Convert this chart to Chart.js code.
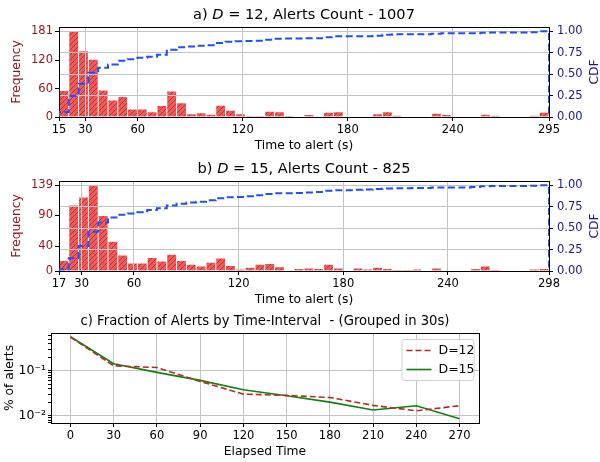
<!doctype html>
<html lang="en">
<head>
<meta charset="utf-8">
<title>Time to alert</title>
<style>
  body { margin: 0; background: #fff; }
  #wrap { position: relative; width: 600px; height: 462px; }
  canvas { position: absolute; left: 0; }
</style>
</head>
<body>
<div id="wrap">
  <canvas id="chartA" width="600" height="160" style="top:0"></canvas>
  <canvas id="chartB" width="600" height="160" style="top:150px"></canvas>
  <canvas id="chartC" width="600" height="157" style="top:305px"></canvas>
</div>
<script src="https://cdn.jsdelivr.net/npm/chart.js"></script>
<script>
// a) D=12 : 50 histogram bins between 15 s and 295 s
const rangeA = [15, 295];
const countsA = [56, 181, 140, 122, 57, 36, 43, 17, 17, 11,
                 24, 55, 30, 7, 9, 6, 25, 14, 7, 2,
                 2, 12, 11, 2, 0, 5, 0, 10, 11, 0,
                 0, 0, 7, 11, 3, 0, 0, 0, 8, 5,
                 0, 0, 0, 6, 3, 0, 0, 0, 3, 10];
const cdfA = [0.058, 0.245, 0.389, 0.515, 0.574, 0.612, 0.656, 0.674, 0.691, 0.703,
              0.727, 0.784, 0.815, 0.822, 0.832, 0.838, 0.864, 0.878, 0.885, 0.887,
              0.889, 0.902, 0.913, 0.915, 0.915, 0.920, 0.920, 0.931, 0.942, 0.942,
              0.942, 0.942, 0.949, 0.961, 0.964, 0.964, 0.964, 0.964, 0.972, 0.977,
              0.977, 0.977, 0.977, 0.983, 0.986, 0.986, 0.986, 0.986, 0.990, 1.000];
const xTicksA = [15, 30, 60, 120, 180, 240, 295];
const yTicksA = [0, 60, 120, 181];

// b) D=15 : 50 histogram bins between 17 s and 298 s
const rangeB = [17, 298];
const countsB = [17, 107, 120, 139, 90, 48, 26, 13, 13, 22,
                 16, 27, 17, 11, 8, 14, 21, 9, 3, 6,
                 11, 12, 7, 0, 4, 5, 4, 11, 5, 0,
                 5, 3, 6, 4, 1, 1, 3, 0, 5, 0,
                 0, 0, 4, 8, 2, 0, 0, 0, 3, 4];
const cdfB = [0.020, 0.149, 0.292, 0.459, 0.566, 0.624, 0.655, 0.671, 0.686, 0.713,
              0.732, 0.764, 0.784, 0.798, 0.807, 0.824, 0.849, 0.860, 0.863, 0.871,
              0.884, 0.898, 0.907, 0.907, 0.911, 0.917, 0.922, 0.935, 0.941, 0.941,
              0.947, 0.951, 0.958, 0.963, 0.964, 0.965, 0.969, 0.969, 0.975, 0.975,
              0.975, 0.975, 0.980, 0.989, 0.992, 0.992, 0.992, 0.992, 0.995, 1.000];
const xTicksB = [17, 30, 60, 120, 180, 240, 298];
const yTicksB = [0, 40, 90, 139];

const cdfTicks = [0, 0.25, 0.5, 0.75, 1];

// c) fraction of alerts per 30 s interval
const elapsed = [0, 30, 60, 90, 120, 150, 180, 210, 240, 270];
const frac12 = [0.56, 0.129, 0.118, 0.058, 0.0303, 0.0283, 0.0255, 0.017, 0.0129, 0.0167];
const frac15 = [0.57, 0.143, 0.092, 0.061, 0.0379, 0.0278, 0.0201, 0.0134, 0.0167, 0.0086];
const logTicksC = [0.007, 0.008, 0.009, 0.01, 0.02, 0.03, 0.04, 0.05, 0.06, 0.07, 0.08, 0.09,
                   0.1, 0.2, 0.3, 0.4, 0.5, 0.6];

Chart.defaults.font.family = "'DejaVu Sans', sans-serif";
Chart.defaults.color = '#000';

const gridColor = 'rgb(196,196,196)';
const freqColor = '#8b1a1a';
const cdfColor = '#1a1a8b';

function hatchPattern() {
    const s = 5;
    const c = document.createElement('canvas');
    c.width = s; c.height = s;
    const g = c.getContext('2d');
    g.fillStyle = 'rgb(255,84,84)';
    g.fillRect(0, 0, s, s);
    g.strokeStyle = 'rgba(70,70,70,0.85)';
    g.lineWidth = 0.8;
    g.beginPath();
    g.moveTo(-1, s + 1); g.lineTo(s + 1, -1);
    g.moveTo(-1, 1); g.lineTo(1, -1);
    g.moveTo(s - 1, s + 1); g.lineTo(s + 1, s - 1);
    g.stroke();
    return g.createPattern(c, 'repeat');
}
const histFill = hatchPattern();

// panel title centred over the plot area, parts may be italic (the D)
function panelTitle(parts, y, size) {
    return {
        id: 'panelTitle',
        afterDraw(chart) {
            const ctx = chart.ctx, a = chart.chartArea;
            ctx.save();
            ctx.fillStyle = '#000';
            ctx.textBaseline = 'middle';
            ctx.textAlign = 'left';
            const fonts = parts.map(p => (p.italic ? 'italic ' : '') + size + "px 'DejaVu Sans'");
            let total = 0;
            const widths = parts.map((p, i) => {
                ctx.font = fonts[i];
                const w = ctx.measureText(p.text).width;
                total += w;
                return w;
            });
            let x = (a.left + a.right) / 2 - total / 2;
            parts.forEach((p, i) => {
                ctx.font = fonts[i];
                ctx.fillText(p.text, x, y);
                x += widths[i];
            });
            ctx.restore();
        }
    };
}

// grid of x and CDF axis goes over the bars but under the CDF line
const gridOverBars = {
    id: 'gridOverBars',
    afterDatasetDraw(chart, args) {
        if (args.meta.type !== 'bar') return;
        const ctx = chart.ctx, a = chart.chartArea;
        ctx.save();
        ctx.beginPath();
        ctx.rect(a.left, a.top, a.right - a.left, a.bottom - a.top);
        ctx.clip();
        chart.scales.x.drawGrid(a);
        chart.scales.y2.drawGrid(a);
        ctx.restore();
        ctx.save();
        ctx.strokeStyle = '#000';
        ctx.lineWidth = 1;
        ctx.strokeRect(Math.round(a.left) + 0.5, Math.round(a.top) + 0.5,
            Math.round(a.right - a.left), Math.round(a.bottom - a.top));
        ctx.restore();
    },
    afterDraw(chart) {
        // right axis label reads bottom to top
        const ctx = chart.ctx, a = chart.chartArea;
        ctx.save();
        ctx.translate(594.5, (a.top + a.bottom) / 2);
        ctx.rotate(-Math.PI / 2);
        ctx.fillStyle = cdfColor;
        ctx.font = "12.3px 'DejaVu Sans'";
        ctx.textAlign = 'center';
        ctx.textBaseline = 'middle';
        ctx.fillText('CDF', 0, 0);
        ctx.restore();
    }
};

function histChart(id, titleParts, range, counts, cdf, xTicks, yTicks, lay) {
    const w = (range[1] - range[0]) / counts.length;
    const bars = counts.map((c, i) => ({x: range[0] + (i + 0.5) * w, y: c}));
    const steps = [{x: range[0], y: 0}];
    cdf.forEach((v, i) => {
        steps.push({x: range[0] + i * w, y: v}, {x: range[0] + (i + 1) * w, y: v});
    });
    steps.push({x: range[1], y: 0});

    return new Chart(document.getElementById(id), {
        type: 'line',
        data: {
            datasets: [{
                type: 'bar',
                data: bars,
                yAxisID: 'y',
                backgroundColor: histFill,
                borderColor: 'rgba(255,255,255,0.45)',
                borderWidth: 0.8,
                barPercentage: 1,
                categoryPercentage: 1,
                order: 1
            }, {
                type: 'line',
                data: steps,
                yAxisID: 'y2',
                borderColor: '#1f4fff',
                borderWidth: 2,
                borderDash: [7, 3.5],
                pointRadius: 0,
                fill: false,
                tension: 0,
                order: 0
            }]
        },
        options: {
            responsive: false,
            animation: false,
            events: [],
            layout: {padding: {top: lay.top, left: 0, right: 0, bottom: 0}},
            plugins: {
                legend: {display: false},
                tooltip: {enabled: false},
                title: {display: false}
            },
            scales: {
                x: {
                    type: 'linear',
                    min: range[0],
                    max: range[1],
                    offset: false,
                    afterBuildTicks: s => { s.ticks = xTicks.map(v => ({value: v})); },
                    afterFit: s => { s.height = lay.xHeight; },
                    ticks: {autoSkip: false, maxRotation: 0, color: '#000', font: {size: 11.5}, padding: 2},
                    grid: {color: gridColor, lineWidth: 1, offset: false, tickColor: '#000', tickLength: 4},
                    border: {display: false},
                    title: {
                        display: true, text: 'Time to alert (s)', color: '#000',
                        font: {size: 12.3}, padding: {top: 0, bottom: lay.xTitle}
                    }
                },
                y: {
                    type: 'linear',
                    position: 'left',
                    min: 0,
                    max: yTicks[yTicks.length - 1] * 1.05,
                    afterBuildTicks: s => { s.ticks = yTicks.map(v => ({value: v})); },
                    afterFit: s => { s.width = 59; },
                    ticks: {color: freqColor, font: {size: 11.5}, padding: 2},
                    grid: {drawOnChartArea: false, tickColor: '#000', tickLength: 4},
                    border: {display: false},
                    title: {
                        display: true, text: 'Frequency', color: freqColor,
                        font: {size: 12.3}, padding: {top: 9.3, bottom: 0}
                    }
                },
                y2: {
                    type: 'linear',
                    position: 'right',
                    min: 0,
                    max: 1.05,
                    afterBuildTicks: s => { s.ticks = cdfTicks.map(v => ({value: v})); },
                    afterFit: s => { s.width = 51; },
                    ticks: {color: cdfColor, font: {size: 11.5}, padding: 4, callback: v => v.toFixed(2)},
                    grid: {color: gridColor, lineWidth: 1, tickColor: '#000', tickLength: 4},
                    border: {display: false}
                }
            }
        },
        plugins: [gridOverBars, panelTitle(titleParts, lay.titleY, 14.6)]
    });
}

histChart('chartA',
    [{text: 'a) '}, {text: 'D', italic: true}, {text: ' = 12, Alerts Count - 1007'}],
    rangeA, countsA, cdfA, xTicksA, yTicksA,
    {top: 27, titleY: 15.5, xHeight: 43, xTitle: 6.8});
histChart('chartB',
    [{text: 'b) '}, {text: 'D', italic: true}, {text: ' = 15, Alerts Count - 825'}],
    rangeB, countsB, cdfB, xTicksB, yTicksB,
    {top: 31, titleY: 19.5, xHeight: 39, xTitle: 2.8});

// legend box and frame of panel c
const legendC = {
    id: 'legendC',
    afterDraw(chart) {
        const ctx = chart.ctx, a = chart.chartArea;
        ctx.save();
        ctx.strokeStyle = '#000';
        ctx.lineWidth = 1;
        ctx.strokeRect(Math.round(a.left) + 0.5, Math.round(a.top) + 0.5,
            Math.round(a.right - a.left), Math.round(a.bottom - a.top));

        const bx = a.right - 77.5, by = a.top + 6, bw = 72, bh = 41;
        ctx.beginPath();
        ctx.roundRect(bx + 0.5, by + 0.5, bw, bh, 3);
        ctx.fillStyle = 'rgba(255,255,255,0.8)';
        ctx.fill();
        ctx.strokeStyle = '#d0d0d0';
        ctx.stroke();

        ctx.font = "12.5px 'DejaVu Sans'";
        ctx.textBaseline = 'middle';
        ctx.textAlign = 'left';
        chart.data.datasets.forEach((ds, i) => {
            const y = by + 11.5 + i * 19;
            ctx.beginPath();
            ctx.setLineDash(ds.borderDash || []);
            ctx.strokeStyle = ds.borderColor;
            ctx.lineWidth = ds.borderWidth;
            ctx.moveTo(bx + 5, y);
            ctx.lineTo(bx + 30, y);
            ctx.stroke();
            ctx.setLineDash([]);
            ctx.fillStyle = '#000';
            ctx.fillText(ds.label, bx + 37, y);
        });
        ctx.restore();
    }
};

new Chart(document.getElementById('chartC'), {
    type: 'line',
    data: {
        labels: elapsed,
        datasets: [{
            label: 'D=12',
            data: elapsed.map((x, i) => ({x: x, y: frac12[i]})),
            borderColor: '#b52b2b',
            borderWidth: 1.6,
            borderDash: [6, 3],
            pointRadius: 0,
            fill: false,
            tension: 0
        }, {
            label: 'D=15',
            data: elapsed.map((x, i) => ({x: x, y: frac15[i]})),
            borderColor: '#108010',
            borderWidth: 1.6,
            pointRadius: 0,
            fill: false,
            tension: 0
        }]
    },
    options: {
        responsive: false,
        animation: false,
        events: [],
        layout: {padding: {left: 0, right: 121, top: 28, bottom: 0}},
        plugins: {
            legend: {display: false},
            tooltip: {enabled: false},
            title: {display: false}
        },
        scales: {
            x: {
                type: 'linear',
                min: -13.5,
                max: 283.5,
                afterBuildTicks: s => { s.ticks = elapsed.map(v => ({value: v})); },
                afterFit: s => { s.height = 39; },
                ticks: {autoSkip: false, maxRotation: 0, color: '#000', font: {size: 11.5}, padding: 2},
                grid: {color: gridColor, lineWidth: 1, tickColor: '#000', tickLength: 4},
                border: {display: false},
                title: {
                    display: true, text: 'Elapsed Time', color: '#000',
                    font: {size: 12.3}, padding: {top: 0, bottom: 2.8}
                }
            },
            y: {
                type: 'logarithmic',
                min: 0.0069,
                max: 0.69,
                afterBuildTicks: s => { s.ticks = logTicksC.map(v => ({value: v})); },
                afterFit: s => { s.width = 51; },
                ticks: {
                    autoSkip: false, color: '#000', font: {size: 12.5}, padding: 2,
                    callback: v => v === 0.1 ? '10\u207B\u00B9' : (v === 0.01 ? '10\u207B\u00B2' : '')
                },
                grid: {
                    color: c => (c.tick && (c.tick.value === 0.1 || c.tick.value === 0.01)) ? gridColor : 'rgba(0,0,0,0)',
                    lineWidth: 1, tickColor: '#000', tickLength: 3
                },
                border: {display: false},
                title: {
                    display: true, text: '% of alerts', color: '#000',
                    font: {size: 12.3}, padding: {top: 2.8, bottom: 0}
                }
            }
        }
    },
    plugins: [legendC, panelTitle([{text: 'c) Fraction of Alerts by Time-Interval  - (Grouped in 30s)'}], 17, 13.2)]
});
</script>
</body>
</html>
